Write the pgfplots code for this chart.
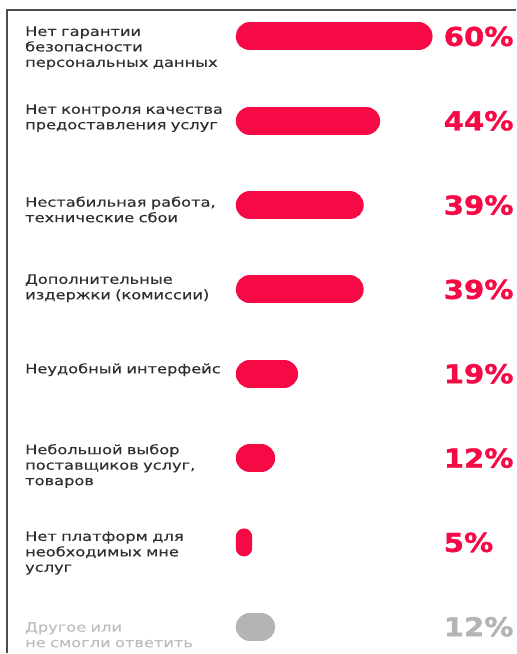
\documentclass[border=0pt]{standalone}
\usepackage{fontspec}
\usepackage{pgfplots}
\usepackage{pgfplotstable}
\pgfplotsset{compat=1.18}
\setmainfont{DejaVu Sans}
\newfontfamily\lblfont{DejaVu Sans}[FakeStretch=1.25, FakeBold=0.25]
\newfontfamily\pctfont{DejaVu Sans}[FakeStretch=1.12, BoldFeatures={FakeBold=1.4, FakeStretch=1.12}]
\definecolor{barred}{HTML}{F50A46}
\definecolor{bargray}{HTML}{B4B4B4}
\definecolor{lbltext}{HTML}{2E2E2E}
\definecolor{lblgray}{HTML}{BDBDBD}
\definecolor{framec}{HTML}{4D4D4D}
% k = row, v = share in percent
\pgfplotstableread{
k v
0 60
1 44
2 39
3 39
4 19
5 12
}\redbars
\pgfplotstableread{
k v
6 5
}\smallbar
\pgfplotstableread{
k v
7 12
}\graybar
\begin{document}
\begin{tikzpicture}
\begin{axis}[
  scale only axis, width=516bp, height=654bp,
  xmin=-76.15, xmax=81.02,
  ymin=-0.4325, ymax=7.316, y dir=reverse,
  axis line style={draw=none},
  xtick=\empty,
  ytick={-0.121,0.802,1.897,2.819,3.873,4.832,5.867,6.944},
  yticklabels={
    {Нет гарантии\\безопасности\\персональных данных},
    {Нет контроля качества\\предоставления услуг},
    {Нестабильная работа,\\технические сбои},
    {Дополнительные\\издержки (комиссии)},
    {Неудобный интерфейс},
    {Небольшой выбор\\поставщиков услуг,\\товаров},
    {Нет платформ для\\необходимых мне\\услуг},
    {\color{lblgray}Другое или\\не смогли ответить}},
  major tick length=0pt,
  ytick style={draw=none},
  yticklabel style={anchor=north west, xshift=25bp, inner sep=0pt, align=left,
    text width=210bp, text=lbltext, font=\lblfont\fontsize{13bp}{15.5bp}\selectfont},
  clip=false,
]
% pill bars: round-capped lines, 28bp thick; 8.528 = cap allowance (28bp in data units)
\addplot[xcomb, mark=none, draw=barred, line width=28bp, line cap=round]
  table[x expr=\thisrow{v}-8.528, y=k] {\redbars};
\addplot[xcomb, mark=none, draw=bargray, line width=28bp, line cap=round]
  table[x expr=\thisrow{v}-8.528, y=k] {\graybar};
\addplot[xbar, bar shift=0pt, bar width=28bp, draw=none, fill=barred, rounded corners=8.2bp, xshift=-14bp]
  table[x expr=\thisrow{v}, y=k] {\smallbar};
\path (axis description cs:0,0) rectangle (axis description cs:1,1);
\draw[framec, line width=1.2bp] (axis description cs:0.01357,0) -- (axis description cs:0.01357,0.98471) -- (axis description cs:1,0.98471);
\begin{scope}[every node/.style={anchor=west, inner sep=0pt, font=\pctfont\bfseries\fontsize{26bp}{28bp}\selectfont}]
\node[text=barred] at (axis cs:59.09,0) {60\%};
\node[text=barred] at (axis cs:59.09,1) {44\%};
\node[text=barred] at (axis cs:59.09,2) {39\%};
\node[text=barred] at (axis cs:59.09,3) {39\%};
\node[text=barred] at (axis cs:59.09,4) {19\%};
\node[text=barred] at (axis cs:59.09,5) {12\%};
\node[text=barred] at (axis cs:59.09,6) {5\%};
\node[text=bargray] at (axis cs:59.09,7) {12\%};
\end{scope}
\end{axis}
\end{tikzpicture}
\end{document}
